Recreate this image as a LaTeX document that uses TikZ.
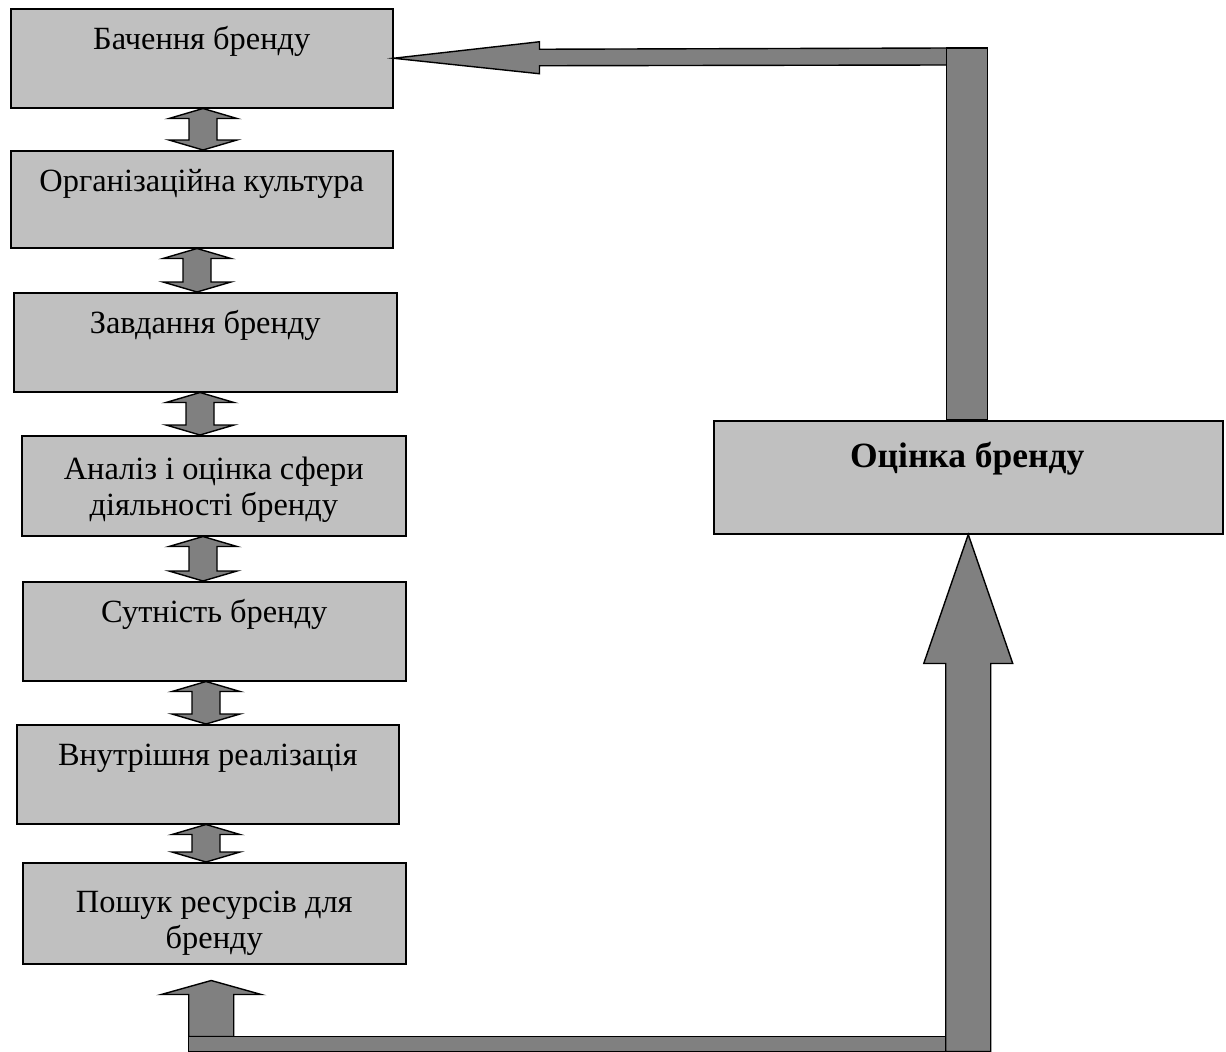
\documentclass[tikz,border=0pt]{standalone}
\usepackage{fontspec}
\setmainfont{Liberation Serif}
\usetikzlibrary{calc}
\definecolor{boxgray}{HTML}{C0C0C0}
\definecolor{arrgray}{HTML}{808080}
\tikzset{
  stage/.style={draw=black, line width=1.5pt, fill=boxgray, inner sep=0pt,
    anchor=north west},
  caption/.style={font=\fontsize{32.4}{36}\selectfont, anchor=base, align=center,
    inner sep=0pt},
  bigcaption/.style={font=\fontsize{35.5}{40}\selectfont\bfseries, anchor=base,
    inner sep=0pt},
  blk/.style={draw=black, line width=1.4pt, fill=arrgray, line join=miter},
}
% two-headed block arrow between a stage and the one below it
\newcommand\twoway[3]{%
  \draw[blk] let \p1=(#1.south), \p2=(#2.north) in
    (#3pt,\y1) -- (#3pt+34pt,\y1-10pt) -- (#3pt+14pt,\y1-10pt)
    -- (#3pt+14pt,\y2+10pt) -- (#3pt+34pt,\y2+10pt) -- (#3pt,\y2)
    -- (#3pt-34pt,\y2+10pt) -- (#3pt-14pt,\y2+10pt)
    -- (#3pt-14pt,\y1-10pt) -- (#3pt-34pt,\y1-10pt) -- cycle;}
\begin{document}
\begin{tikzpicture}[x=1pt, y=1pt]
  \useasboundingbox (0,0) rectangle (1226,-1052);

  % stages of the left column
  \node[stage, minimum width=382, minimum height=99]  (b1) at (10,-8) {};
  \node[stage, minimum width=382, minimum height=97]  (b2) at (10,-150) {};
  \node[stage, minimum width=383, minimum height=99]  (b3) at (13,-292) {};
  \node[stage, minimum width=384, minimum height=100] (b4) at (21,-435) {};
  \node[stage, minimum width=383, minimum height=99]  (b5) at (22,-581) {};
  \node[stage, minimum width=382, minimum height=99]  (b6) at (16,-724) {};
  \node[stage, minimum width=383, minimum height=101] (b7) at (22,-862) {};
  % evaluation box
  \node[stage, minimum width=509, minimum height=113] (ev) at (713,-420) {};

  % captions (base anchor of a two-line caption is its last line)
  \node[caption] (t1) at ($(b1.north)+(0,-41)$) {Бачення бренду};
  \node[caption] (t2) at ($(b2.north)+(0,-41)$) {Організаційна культура};
  \node[caption] (t3) at ($(b3.north)+(0,-41)$) {Завдання бренду};
  \node[caption] (t4) at ($(b4.north)+(0,-80)$) {Аналіз і оцінка сфери\\діяльності бренду};
  \node[caption] (t5) at ($(b5.north)+(0,-41)$) {Сутність бренду};
  \node[caption] (t6) at ($(b6.north)+(0,-41)$) {Внутрішня реалізація};
  \node[caption] (t7) at ($(b7.north)+(0,-86)$) {Пошук ресурсів для\\бренду};
  \node[bigcaption] (tev) at ($(ev.north)+(-1,-47)$) {Оцінка бренду};

  % two-way arrows between neighbouring stages
  \twoway{b1}{b2}{203}
  \twoway{b2}{b3}{197}
  \twoway{b3}{b4}{200}
  \twoway{b4}{b5}{203}
  \twoway{b5}{b6}{206}
  \twoway{b6}{b7}{206}

  % feedback from the evaluation back to the brand vision
  \coordinate (barTop) at ($(ev.north)+(-21.5,372)$);
  \draw[blk] (b1.east) -- ++(146,16.5) -- ++(0,-7.5) -- (barTop) -- ++(0,-17)
    -- ($(b1.east)+(146,-7.5)$) -- ++(0,-8) -- cycle;
  \draw[blk] (barTop) rectangle ($(ev.north)+(19.5,0)$);

  % loop from the resource search up to the evaluation
  \coordinate (ltip) at ($(b7.south)+(-3,-16)$);
  \coordinate (rb) at ($(ev.south)+(-22.5,-517)$);
  \draw[blk] (ltip) -- ++(50,-14) -- ++(-27.5,0) -- ++(0,-42) -- ++(-45,0)
    -- ++(0,42) -- ++(-27.5,0) -- cycle;
  \draw[blk] ($(ltip)+(-23,-56)$) rectangle ($(rb)+(2,0)$);
  \draw[blk] (ev.south) -- ++(44.5,-129) -- ++(-22,0) -- ++(0,-388) -- ++(-45,0)
    -- ++(0,388) -- ++(-22,0) -- cycle;
\end{tikzpicture}
\end{document}
